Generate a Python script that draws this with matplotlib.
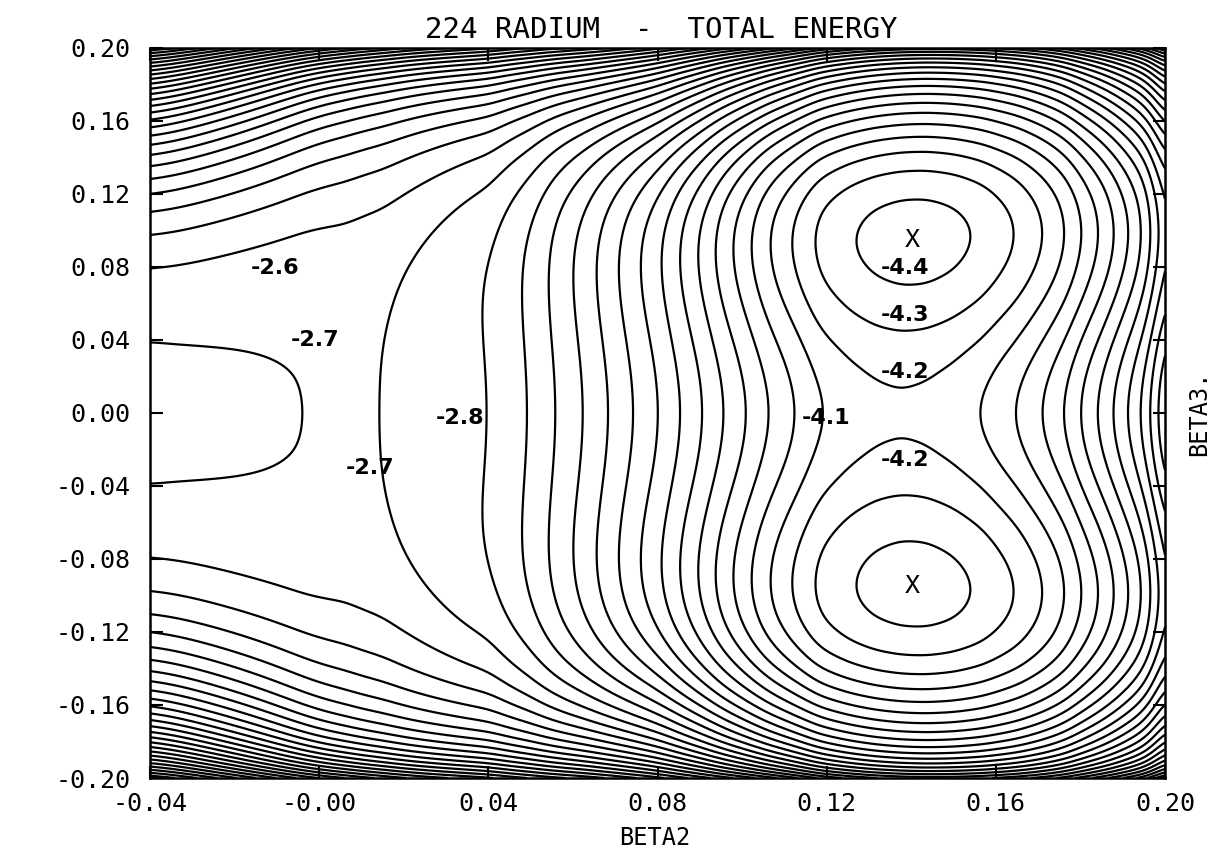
import numpy as np
import matplotlib
matplotlib.use("Agg")
import matplotlib.pyplot as plt

plt.rcParams["font.family"] = ["DejaVu Sans Mono", "DejaVu Sans"]

# Total energy along the reflection-symmetric line beta3 = 0 (contour crossings)
beta2_axis = [-0.04, -0.0033, 0.006, 0.0151, 0.0404, 0.0494, 0.0558, 0.0624,
              0.0683, 0.0742, 0.0802, 0.0853, 0.0906, 0.0955, 0.1009, 0.1061,
              0.1124, 0.1185, 0.1255, 0.1315, 0.1376, 0.1437, 0.150, 0.1567,
              0.165, 0.1712, 0.1764, 0.1801, 0.1842, 0.1879, 0.1913, 0.1946,
              0.1969, 0.20]
energy_axis = [-2.72, -2.70, -2.688, -2.70, -2.80, -2.90, -3.00, -3.10,
               -3.20, -3.30, -3.40, -3.50, -3.60, -3.70, -3.80, -3.90,
               -4.00, -4.10, -4.154, -4.181, -4.19, -4.181, -4.152, -4.10,
               -4.00, -3.90, -3.80, -3.70, -3.60, -3.50, -3.40, -3.30,
               -3.20, -2.98]

# Octupole (beta3) dependence: E = E(beta2, 0) + (c4*b3^4 + c2*b3^2) / (1 + d*b3^2)
beta2_knots = [-0.04, -0.016, 0.003, 0.02, 0.05, 0.08, 0.11, 0.138, 0.17, 0.20]
quartic_coef = [1300, 1000, 620, 500, 800, 1800, 2800, 3191, 3191, 3191]
quadratic_coef = [12, 5, 1.5, 1, -7, -24, -53, -66, -72, -72]
damping_coef = [1.0, 1.0, 1.0, 1.0, 3.3, 12.5, 22.0, 33.3, 33.3, 33.3]

# Steep rise of the energy towards |beta3| = 0.20
wall_height = [0.3, 0.5, 0.8, 0.8, 0.58, 0.35, 0.4, 0.38, 0.38, 0.38]
wall_width = [0.012, 0.014, 0.016, 0.016, 0.014, 0.010, 0.008, 0.008, 0.008, 0.008]

# Contour levels (MeV) and the levels written on the map
contour_levels = np.round(np.arange(-4.4, 0.0, 0.1), 1)
labelled_levels = [-2.6, -2.7, -2.8, -2.7, -4.1, -4.4, -4.3, -4.2, -4.2]

xtick_values = [-0.04, 0.00, 0.04, 0.08, 0.12, 0.16, 0.20]
xtick_labels = ["-0.04", "-0.00", "0.04", "0.08", "0.12", "0.16", "0.20"]
ytick_values = [-0.20, -0.16, -0.12, -0.08, -0.04, 0.00, 0.04, 0.08, 0.12, 0.16, 0.20]
ytick_labels = ["-0.20", "-0.16", "-0.12", "-0.08", "-0.04", "0.00",
                "0.04", "0.08", "0.12", "0.16", "0.20"]


def smooth(values, sigma):
    half = int(3 * sigma)
    k = np.exp(-0.5 * (np.arange(-half, half + 1) / sigma) ** 2)
    k /= k.sum()
    padded = np.pad(values, half, mode="edge")
    return np.convolve(padded, k, mode="valid")


b2 = np.linspace(-0.04, 0.20, 721)
b3 = np.linspace(-0.20, 0.20, 801)

e_axis = smooth(np.interp(b2, beta2_axis, energy_axis), 6)
c4 = smooth(np.interp(b2, beta2_knots, quartic_coef), 20)
c2 = smooth(np.interp(b2, beta2_knots, quadratic_coef), 20)
dmp = smooth(np.interp(b2, beta2_knots, damping_coef), 20)
w_h = smooth(np.interp(b2, beta2_knots, wall_height), 20)
w_w = smooth(np.interp(b2, beta2_knots, wall_width), 20)

z = (b3 ** 2)[:, None]
wall = w_h[None, :] * np.exp((np.abs(b3)[:, None] - 0.20) / w_w[None, :])
energy = (e_axis[None, :]
          + (c4[None, :] * z ** 2 + c2[None, :] * z) / (1.0 + dmp[None, :] * z)
          + wall)

fig = plt.figure(figsize=(12.27, 8.52), dpi=100)
ax = fig.add_axes([150 / 1227, 1 - 778 / 852, 1015 / 1227, 730 / 852])

ax.contour(b2, b3, energy, levels=contour_levels, colors="black",
           linewidths=1.6, linestyles="solid")

# Contour labels placed beside their lines
label_anchor = [(-0.0104, 0.0795), (-0.0010, 0.0400), (0.0333, -0.0027),
                (0.0120, -0.0300), (0.1198, -0.0027), (0.1385, 0.0795),
                (0.1385, 0.0537), (0.1385, 0.0225), (0.1385, -0.0258)]
for lvl, (lx, ly) in zip(labelled_levels, label_anchor):
    ax.text(lx, ly, f"{lvl:.1f}", ha="center", va="center", fontsize=16,
            fontweight="bold", family=["DejaVu Sans"])

# Mark the two octupole-deformed minima
for half in (b3 > 0, b3 < 0):
    sub = energy[half]
    iy, ix = np.unravel_index(np.argmin(sub), sub.shape)
    ax.text(b2[ix], b3[half][iy], "X", ha="center", va="center", fontsize=18)

ax.set_xlim(-0.04, 0.20)
ax.set_ylim(-0.20, 0.20)
ax.set_xticks(xtick_values)
ax.set_xticklabels(xtick_labels)
ax.set_yticks(ytick_values)
ax.set_yticklabels(ytick_labels)
ax.tick_params(axis="both", direction="in", length=9, width=1.5,
               top=True, right=True, labelsize=18)
ax.tick_params(axis="x", pad=10)
ax.tick_params(axis="y", pad=14)
for s in ax.spines.values():
    s.set_linewidth(1.8)

ax.text(0.504, 1.025, "224 RADIUM  -  TOTAL ENERGY", transform=ax.transAxes,
        ha="center", va="center", fontsize=21)
ax.text(0.4975, -0.082, "BETA2", transform=ax.transAxes,
        ha="center", va="center", fontsize=17)
ax.text(1.034, 0.5, "BETA3.", transform=ax.transAxes, rotation=90,
        ha="center", va="center", fontsize=17)

fig.savefig("out.png", dpi=100, facecolor="white")
